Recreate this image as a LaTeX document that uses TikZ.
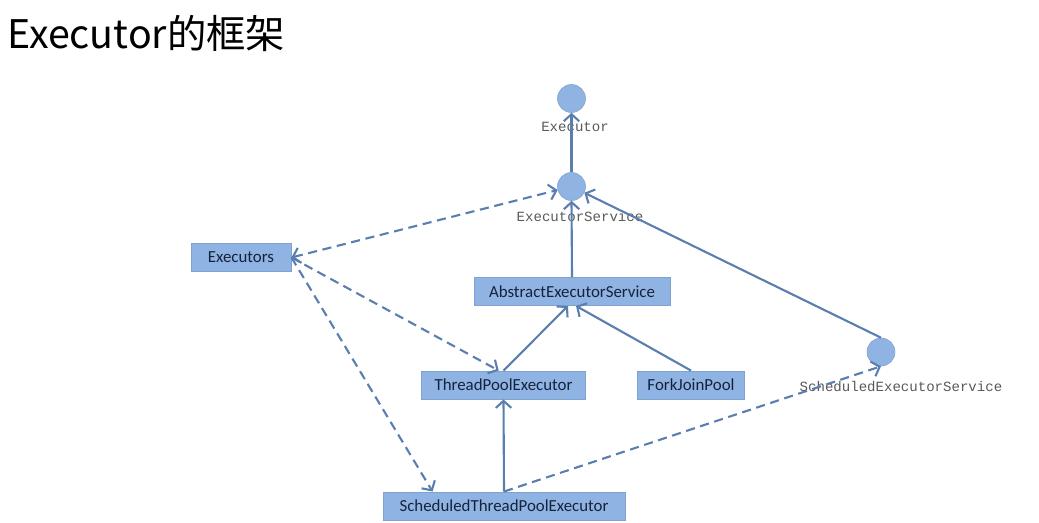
\documentclass[tikz,border=0pt]{standalone}
\usepackage{fontspec}
\setmainfont{Carlito}
\newfontfamily\cjk{Noto Sans CJK SC}
\newfontfamily\labfont{Liberation Mono}
\usetikzlibrary{arrows.meta}
\definecolor{boxblue}{HTML}{8FB4E3}
\definecolor{boxedge}{HTML}{7FA3D0}
\definecolor{linkblue}{HTML}{5A7FAF}
\definecolor{boxtext}{HTML}{17223A}
\tikzset{
    cls/.style={fill=boxblue, draw=boxedge, line width=0.6pt, minimum height=0.7cm,
        inner sep=0pt, text=boxtext, font=\fontsize{12}{14}\selectfont},
    iface/.style={circle, fill=boxblue, draw=boxblue!90!black, line width=0.4pt,
        minimum size=0.7cm, inner sep=0pt},
    tag/.style={text=black!65, font=\labfont\fontsize{10}{12}\selectfont, inner sep=0pt},
    tip/.tip={Straight Barb[length=5pt,width=11pt]},
    link/.style={draw=linkblue, line width=1.5pt, -tip},
    uses/.style={link, dash pattern=on 6.5pt off 4pt}
}
\begin{document}
\begin{tikzpicture}[x=0.025cm, y=-0.025cm]
    \useasboundingbox (0,0) rectangle (1039,523);
    \node[anchor=base west, inner sep=0pt, font=\cjk\fontsize{28}{30}\selectfont] (title) at (7,49) {Executor的框架};

    % interfaces
    \node[iface] (exec) at (571.5,98.5) {};
    \node[tag] (execlbl) at (575,127) {Executor};
    \node[iface] (es) at (571.5,186.5) {};
    \node[tag] (eslbl) at (580,216) {ExecutorService};
    \node[iface] (ses) at (881,352) {};
    \node[tag] (seslbl) at (901,386) {ScheduledExecutorService};

    % classes
    \node[cls, minimum width=2.5cm] (exs) at (241,257.5) {Executors};
    \node[cls, minimum width=4.9cm] (aes) at (572,291.5) {AbstractExecutorService};
    \node[cls, minimum width=4.08cm] (tpe) at (503.5,385) {ThreadPoolExecutor};
    \node[cls, minimum width=2.68cm] (fjp) at (691,385) {ForkJoinPool};
    \node[cls, minimum width=6.05cm] (stpe) at (504,506) {ScheduledThreadPoolExecutor};

    \draw[link] (es.north) -- (exec.south);
    \draw[link] (aes.north) -- (es.south);
    \draw[link] (tpe.north) -- ([xshift=-0.1cm]aes.south);
    \draw[link] (fjp.north) -- ([xshift=0.1cm]aes.south);
    \draw[link] (stpe.north) -- (tpe.south);
    \draw[link] (ses.north) -- (es);

    \draw[uses, tip-tip] (exs.east) -- (es);
    \draw[uses] (exs.east) -- ([xshift=-0.12cm]tpe.north);
    \draw[uses] (exs.east) -- ([xshift=1.25cm]stpe.north west);
    \draw[uses] (stpe.north) -- (ses.south);
\end{tikzpicture}
\end{document}
